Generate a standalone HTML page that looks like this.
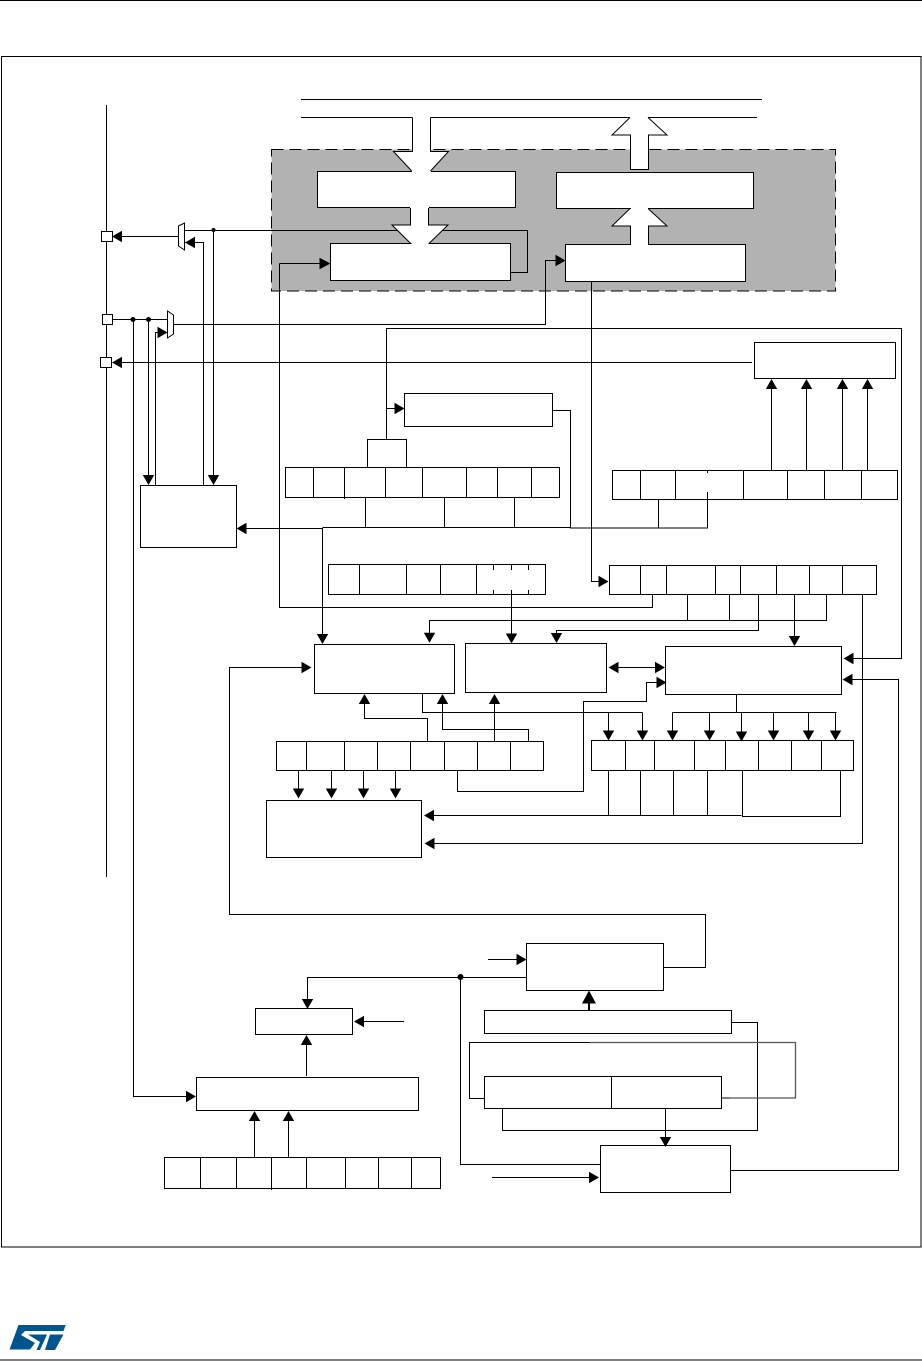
<!DOCTYPE html>
<html><head><meta charset="utf-8"><style>html,body{margin:0;padding:0;background:#fff}svg{display:block}</style></head><body>
<svg width="922" height="1361" viewBox="0 0 922 1361" xmlns="http://www.w3.org/2000/svg">
<rect width="922" height="1361" fill="#fff"/>
<g fill="none" stroke="#000" stroke-width="1">
<path d="M0 0.5H922M0 1360H922"/>
<rect x="1.5" y="56.5" width="919.5" height="1190.5"/>
<path d="M106.5 105V877M301 99.5H762"/>
<rect x="271.5" y="149.5" width="564" height="141.5" fill="#b2b2b2" stroke-dasharray="12 6"/>
<path d="M301 117.5H412.5M430.5 117.5H630M648 117.5H757"/>
<path d="M185 230.5H527.5V272.5H510.5"/>
<path d="M112 236.5H178.5M185 242.5H203.5V485M213.5 230.5V480"/>
<path d="M112.5 319.5H167.5M133.5 319.5V1096.5H190M148.5 319.5V480M155.5 485V332.5H162"/>
<path d="M173.5 324.5H545.5V260.5H560"/>
<path d="M279.5 263.5H325M279.5 263.5V607.5H652.5V594"/>
<path d="M117 362.5H752"/>
<path d="M386.5 439V328.5H901.5V658.5H848M386.5 408.5H400"/>
<path d="M552.5 410.5H570.5V528H707.5V492M658.5 528V499.5M707.5 470.5V473"/>
<path d="M322.5 527.5H570.5M365.5 497.5V528M444.5 497.5V528M514.5 497.5V528M322.5 528.5H241M322.5 528V639"/>
<path d="M771.5 470.5V384M806.5 470.5V384M842.5 470.5V384M867.5 470.5V384"/>
<path d="M591.5 281.5V581.5H603"/>
<path d="M493.5 564.5V570M511.5 564.5V570M528.5 564.5V570M493.5 590V594.5M528.5 590V594.5M511.5 590V638"/>
<path d="M429.5 638V620.5H826.5V594.5M687.5 594.5V620.5M729.5 594.5V620.5"/>
<path d="M758.5 594.5V630.5H556.5V638M794.5 594.5V641"/>
<path d="M862.5 594.5V843.5H430"/>
<path d="M306 667.5H229.5V914.5H705.5V967.5H663.5"/>
<path d="M613 667.5H660"/>
<path d="M457.5 770V791.5H583.5V701.5H646.5V682.5H660"/>
<path d="M848 679.5H898.5V1170.5H730.5"/>
<path d="M422.5 693.5V712.5H642.5M608.5 712.5V735M642.5 712.5V735"/>
<path d="M736.5 694.5V712.5M672.5 712.5H836.5M672.5 712.5V735M709.5 712.5V735M741.5 712.5V735M773.5 712.5V735M808.5 712.5V735M835.5 712.5V735"/>
<path d="M427.5 741.5V718.5H364.5V700M528.5 741.5V729.5H442.5V700M494.5 741.5V700"/>
<path d="M298.5 770.5V792M331.5 770.5V792M363.5 770.5V792M395.5 770.5V792"/>
<path d="M429 815.5H741.5M608.5 770.5V815.5M640.5 770.5V815.5M673.5 770.5V815.5M707.5 770.5V815.5M742.5 770.5V816.5H840.5V770.5"/>
<path d="M526.5 977.5H307.5V1003M460.5 977.5V1164.5H600.5"/>
<path d="M358 1021.5H404M306.5 1076V1040M254.5 1157.5V1116M288.5 1157.5V1116M271.5 1157.5V1190"/>
<path d="M488 959.5H521M492 1177.5H594"/>
<path d="M665.5 1108.5V1142"/>
<path d="M731 1022.5H757.5V1130.5H502.5V1108.5"/>
<path d="M484.5 1098.5H469.5V1042.5H590"/>
<path d="M590 1042.5H795.5V1098H730" stroke="#555" stroke-width="1.3"/>
<path d="M721.5 1098H730"/>
<path d="M589 1010V1000" stroke-width="2"/>
</g>
<!-- block arrow white fills -->
<path fill="#fff" d="M412.5 117H430.5V151.5H448.5L430.5 171H411.7L393.5 151.5H412.5Z"/>
<path fill="#fff" d="M410.5 207.5H428.5V225H448L429 243.5H410.7L392 225H410.5Z"/>
<path fill="#fff" d="M630 117.5H648L667 135H648.5V169.5H630.5V135H612Z"/>
<path fill="#fff" d="M630 208.5H648L667 226H648.5V244.5H630.5V226H612Z"/>
<!-- block arrow outlines -->
<g fill="none" stroke="#000" stroke-width="1">
<path d="M412.5 117.5V151.5H393.5L411.7 171M430.5 171L448.5 151.5H430.5V117.5"/>
<path d="M410.5 207.5V225H392L410.7 243.5M429 243.5L448 225H428.5V207.5"/>
<path d="M630 117.5L612 135H630.5V169.5H648.5V135H667L648 117.5"/>
<path d="M630 208.5L612 226H630.5V244.5M648.5 244.5V226H667L648 208.5"/>
</g>
<!-- white boxes -->
<g fill="#fff" stroke="#000" stroke-width="1">
<rect x="317.5" y="171.5" width="198" height="36" fill="none"/>
<path stroke="none" d="M318 172H411.7L412 171H430.5L431 172H515V207H429V208H410V207H318Z"/>
<rect x="556.5" y="172.5" width="197" height="36"/>
<rect x="330.5" y="243.5" width="180" height="37"/>
<rect x="565.5" y="244.5" width="180" height="37"/>
<rect x="101.5" y="231.5" width="11" height="10"/>
<rect x="102.5" y="314.5" width="10" height="10"/>
<rect x="100.5" y="357.5" width="11" height="10"/>
<path d="M178.5 226L184.5 223V250L178.5 246Z"/>
<path d="M167.5 311L173.5 315V334L167.5 338Z"/>
<rect x="404.5" y="393.5" width="148" height="33"/>
<rect x="754.5" y="342.5" width="141" height="36"/>
<rect x="367.5" y="439.5" width="39" height="28"/>
<rect x="140.5" y="485.5" width="96" height="62"/>
<rect x="285.5" y="467.5" width="274" height="30"/>
<path d="M313.5 467.5V497.5M344.5 467.5V499M385.5 467.5V497.5M422.5 467.5V497.5M466.5 467.5V497.5M497.5 467.5V497.5M531.5 467.5V497.5"/>
<rect x="612.5" y="470.5" width="285" height="29"/>
<path d="M640.5 470.5V499.5M675.5 470.5V499.5M743.5 470.5V499.5M787.5 470.5V499.5M824.5 470.5V499.5M861.5 470.5V499.5M707.5 470.5V473M707.5 492V499.5"/>
<rect x="328.5" y="564.5" width="217" height="30"/>
<path d="M359.5 564.5V594.5M406.5 564.5V594.5M440.5 564.5V594.5M476.5 564.5V594.5M493.5 564.5V570M511.5 564.5V570M528.5 564.5V570M493.5 590V594.5M511.5 590V594.5M528.5 590V594.5"/>
<rect x="609.5" y="565.5" width="267" height="29"/>
<path d="M640.5 565.5V594.5M666.5 565.5V594.5M715.5 565.5V594.5M740.5 565.5V594.5M776.5 565.5V594.5M809.5 565.5V594.5M842.5 565.5V594.5"/>
<rect x="314.5" y="644.5" width="140" height="49"/>
<rect x="465.5" y="643.5" width="141" height="49"/>
<rect x="665.5" y="646.5" width="176" height="48"/>
<rect x="276.5" y="741.5" width="267" height="29"/>
<path d="M306.5 741.5V770.5M344.5 741.5V770.5M377.5 741.5V770.5M410.5 741.5V770.5M444.5 741.5V770.5M477.5 741.5V770.5M510.5 741.5V770.5"/>
<rect x="591.5" y="740.5" width="262" height="30"/>
<path d="M625.5 740.5V770.5M654.5 740.5V770.5M694.5 740.5V770.5M725.5 740.5V770.5M758.5 740.5V770.5M791.5 740.5V770.5M821.5 740.5V770.5"/>
<rect x="266.5" y="800.5" width="155" height="57"/>
<rect x="526.5" y="943.5" width="137" height="47"/>
<rect x="484.5" y="1010.5" width="247" height="23"/>
<rect x="255.5" y="1008.5" width="97" height="26"/>
<rect x="196.5" y="1077.5" width="222" height="33"/>
<rect x="484.5" y="1076.5" width="237" height="32"/>
<path d="M611.5 1076.5V1108.5"/>
<rect x="600.5" y="1145.5" width="130" height="47"/>
<rect x="164.5" y="1157.5" width="276" height="31"/>
<path d="M200.5 1157.5V1188.5M236.5 1157.5V1188.5M271.5 1157.5V1190M306.5 1157.5V1188.5M345.5 1157.5V1188.5M378.5 1157.5V1188.5M411.5 1157.5V1188.5"/>
</g>
<!-- openings where block arrows meet boxes -->
<g fill="#fff">
<rect x="411.5" y="243" width="17" height="1.5"/>
<rect x="631" y="208" width="17" height="1.5"/>
<rect x="631" y="244" width="17" height="1.5"/>
</g>
<!-- arrowheads -->
<path fill="#000" d="
M112 236.5l10-5.7v11.4z
M185 242.5l10-5.7v11.4z
M213.5 485l-5.7-10h11.4z
M148.5 485l-5.7-10h11.4z
M167.5 332.5l-10-5.7v11.4z
M330.5 263.5l-11-5.7v11.4z
M565.5 260.5l-10-5.7v11.4z
M112 362.5l10-5.7v11.4z
M404.5 408.5l-10-5.7v11.4z
M843.5 658.5l10-5.7v11.4z
M771.5 379l-5.7 10h11.4z
M806.5 379l-5.7 10h11.4z
M842.5 379l-5.7 10h11.4z
M867.5 379l-5.7 10h11.4z
M236.5 528.5l10-5.7v11.4z
M322.5 644l-5.7-10h11.4z
M608.5 581.5l-10-5.7v11.4z
M511.5 643.5l-5.7-10h11.4z
M429.5 642.7l-5.7-10h11.4z
M556.5 643l-5.7-10h11.4z
M794.5 646l-5.7-10h11.4z
M424.5 843.5l10-5.7v11.4z
M311.5 667.5l-10-5.7v11.4z
M608.5 667.5l10-5.7v11.4z
M665 667.5l-10-5.7v11.4z
M666.5 682.5l-10-5.7v11.4z
M842.5 679.5l10-5.7v11.4z
M608.5 740.5l-5.7-10h11.4z
M642.5 740.5l-5.7-10h11.4z
M672.5 740.5l-5.7-10h11.4z
M709.5 740.5l-5.7-10h11.4z
M741.5 741.5l-5.7-10h11.4z
M773.5 740.5l-5.7-10h11.4z
M808.5 740.5l-5.7-10h11.4z
M835.5 740.5l-5.7-10h11.4z
M364.5 694l-5.7 10h11.4z
M442.5 694l-5.7 10h11.4z
M494.5 694l-5.7 10h11.4z
M298.5 798.5l-5.7-10h11.4z
M331.5 798.5l-5.7-10h11.4z
M363.5 798.5l-5.7-10h11.4z
M395.5 798.5l-5.7-10h11.4z
M424 815.5l10-5.7v11.4z
M307.5 1009l-5.7-10h11.4z
M354 1021.5l10-5.7v11.4z
M306.5 1035l-5.7 10h11.4z
M254.5 1111l-5.7 10h11.4z
M288.5 1111l-5.7 10h11.4z
M196 1096.5l-10-5.7v11.4z
M526.5 959.5l-10-5.7v11.4z
M589 990.5l-7 13h14z
M665.5 1147l-5.7-10h11.4z
M599 1177.5l-10-5.7v11.4z
"/>
<g fill="#000">
<circle cx="213.5" cy="230" r="2"/>
<circle cx="133" cy="319.5" r="2.5"/>
<circle cx="148.5" cy="319.5" r="2.5"/>
<circle cx="460.5" cy="977" r="3"/>
</g>
<!-- logo -->
<g fill="#00558f">
<path d="M18.5 1325H65.7L63.5 1331H25L21 1335L35 1343L30 1349.5H9.5Z"/>
<path d="M28 1334.5H47L40 1350H36.5L40 1342Z"/>
<path d="M50 1334.5H63.5L55 1350H45Z"/>
</g>
</svg>
</body></html>
